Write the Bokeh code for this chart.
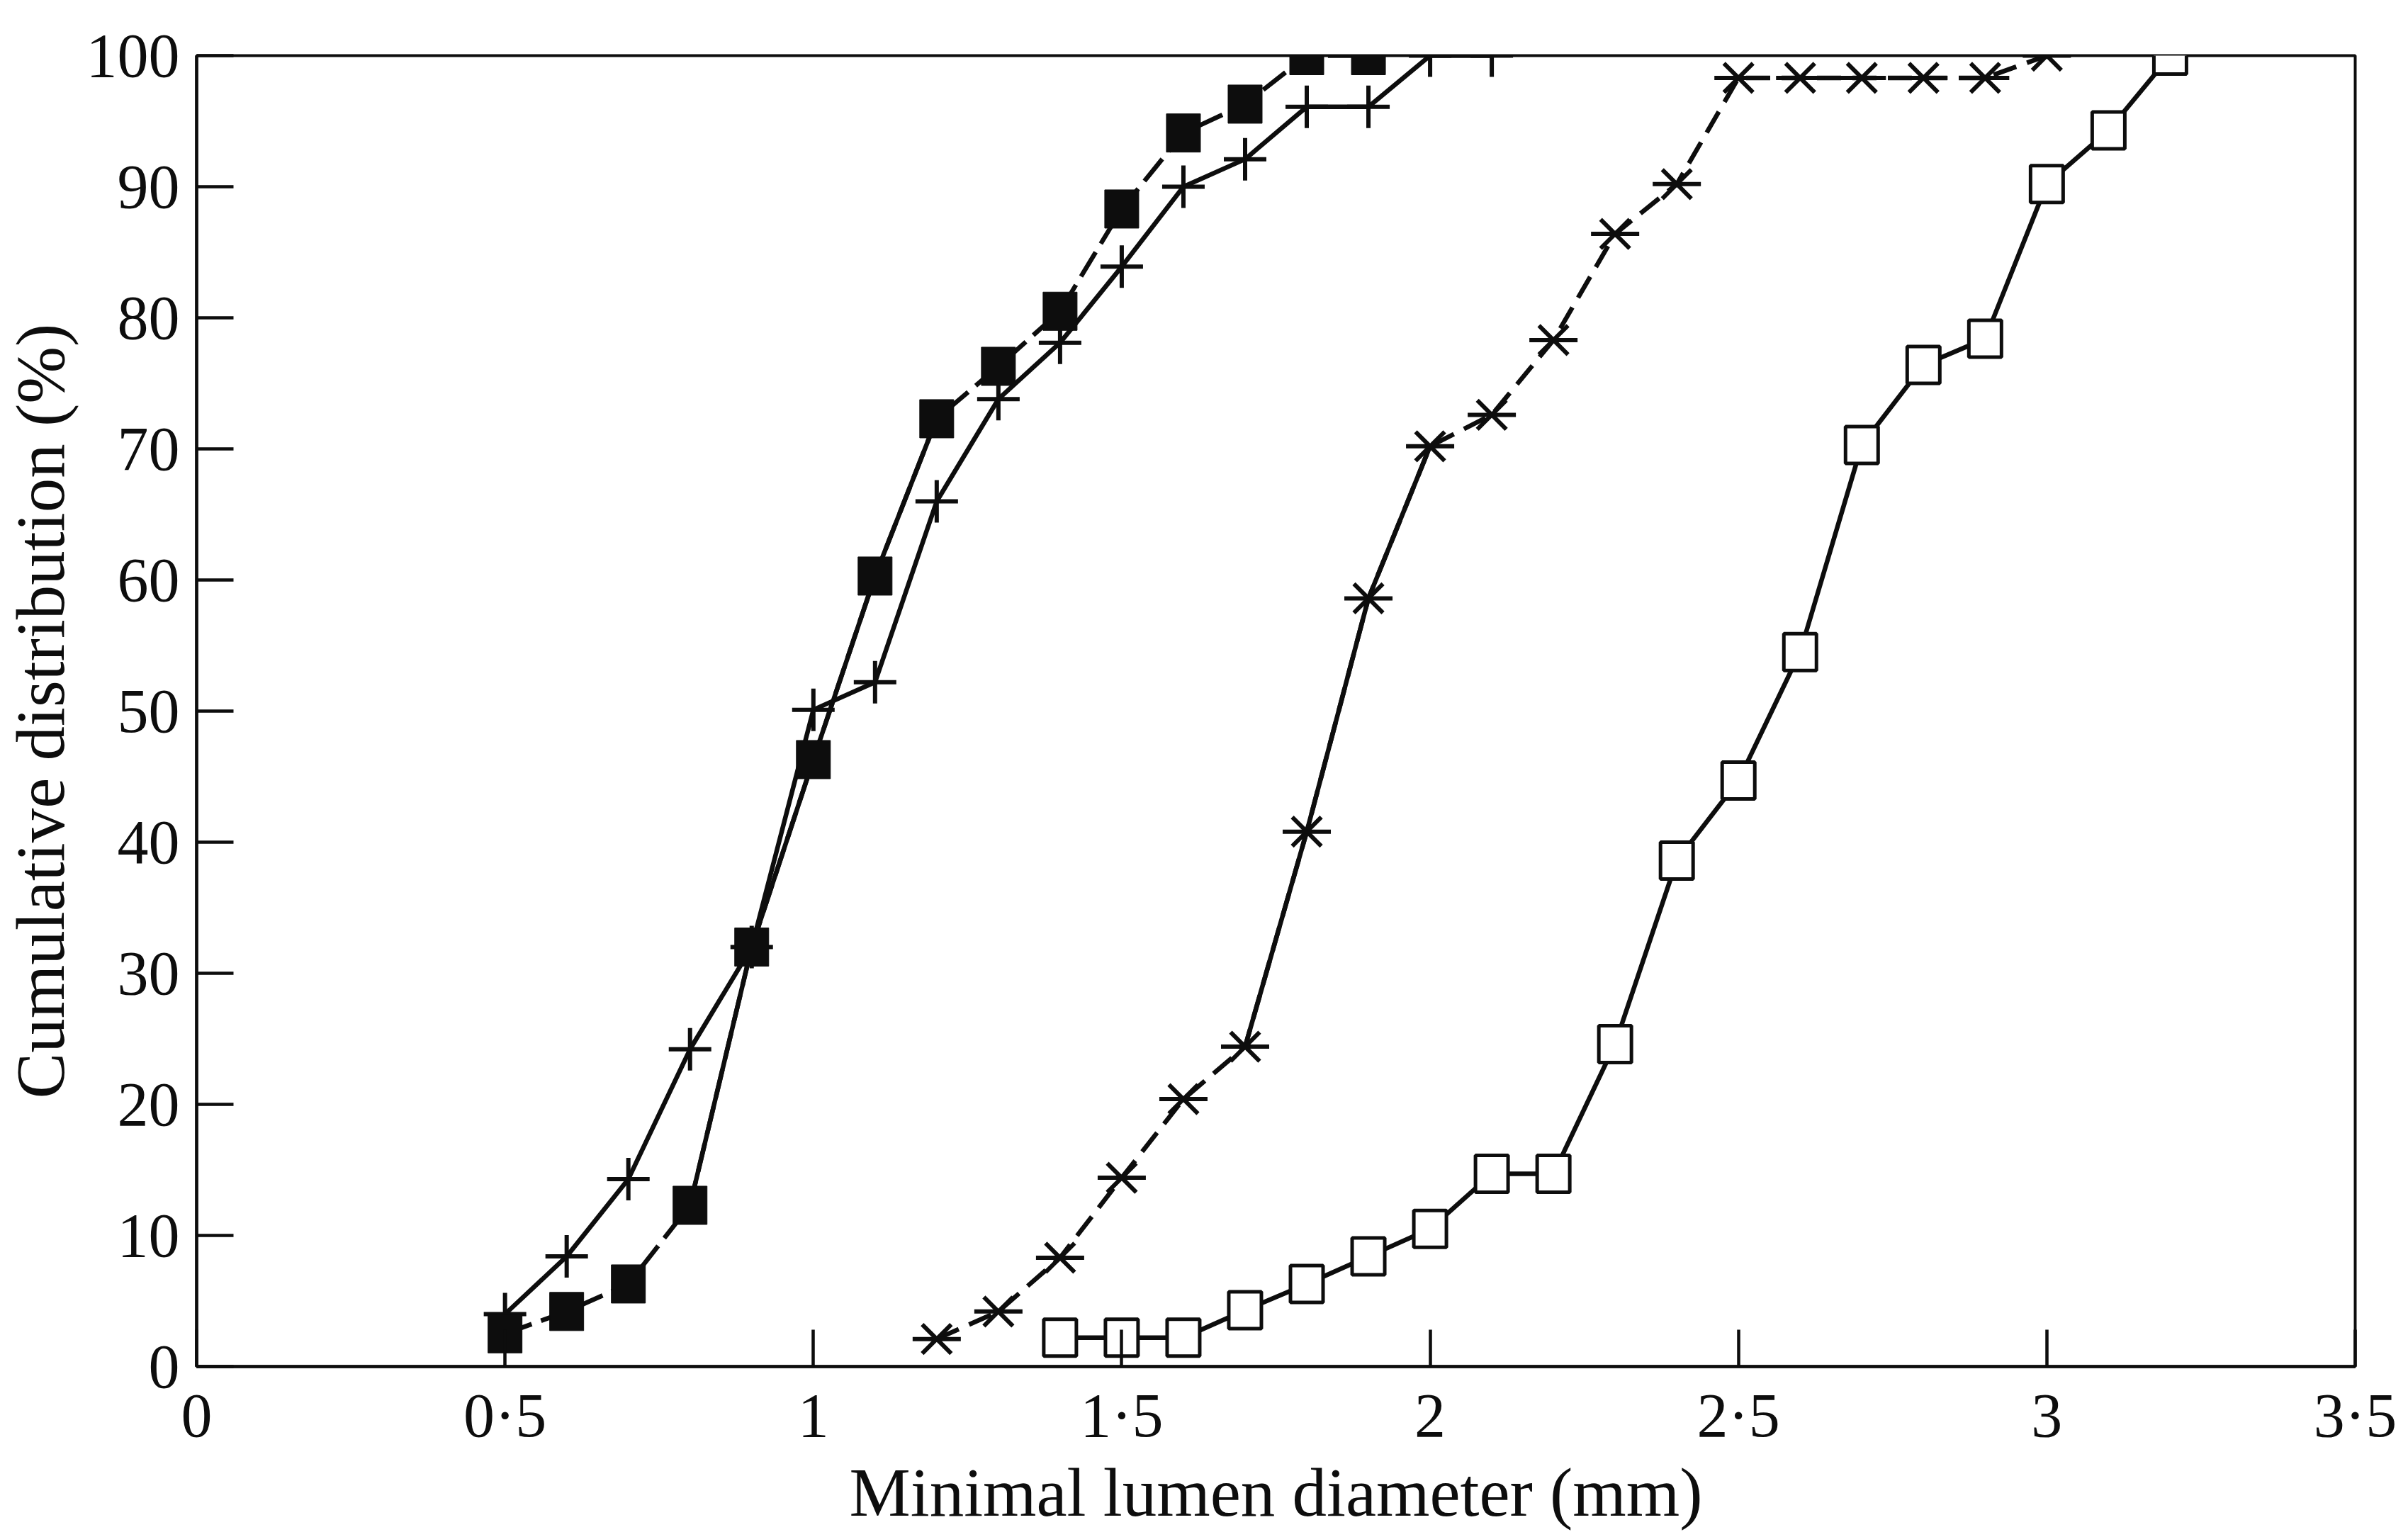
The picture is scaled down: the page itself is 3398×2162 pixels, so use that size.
from bokeh.plotting import figure
from bokeh.models import Range1d, FixedTicker, CustomJSTickFormatter
from bokeh.embed import file_html
from bokeh.resources import INLINE

# ---- data ----
filled_x = [0.5, 0.6, 0.7, 0.8, 0.9, 1.0, 1.1, 1.2, 1.3, 1.4, 1.5, 1.6, 1.7, 1.8, 1.9]
filled_y = [2.5, 4.2, 6.3, 12.3, 32.0, 46.3, 60.3, 72.3, 76.3, 80.5, 88.3, 94.1, 96.3, 100.0, 100.0]

plus_x = [0.5, 0.6, 0.7, 0.8, 0.9, 1.0, 1.1, 1.2, 1.3, 1.4, 1.5, 1.6, 1.7, 1.8, 1.9, 2.0, 2.1]
plus_y = [4.0, 8.4, 14.3, 24.2, 32.0, 50.1, 52.2, 66.0, 73.8, 78.1, 83.9, 90.0, 92.1, 96.1, 96.1, 100.0, 100.0]

star_x = [1.2, 1.3, 1.4, 1.5, 1.6, 1.7, 1.8, 1.9, 2.0, 2.1, 2.2, 2.3, 2.4, 2.5, 2.6, 2.7, 2.8, 2.9, 3.0]
star_y = [2.1, 4.2, 8.3, 14.4, 20.4, 24.4, 40.8, 58.6, 70.2, 72.6, 78.3, 86.4, 90.2, 98.3, 98.3, 98.3, 98.3, 98.3, 100.0]

open_x = [1.4, 1.5, 1.6, 1.7, 1.8, 1.9, 2.0, 2.1, 2.2, 2.3, 2.4, 2.5, 2.6, 2.7, 2.8, 2.9, 3.0, 3.1, 3.2]
open_y = [2.2, 2.2, 2.2, 4.3, 6.3, 8.4, 10.5, 14.7, 14.7, 24.6, 38.6, 44.7, 54.5, 70.3, 76.4, 78.4, 90.2, 94.3, 100.0]

x_ticks = [0, 0.5, 1, 1.5, 2, 2.5, 3, 3.5]
y_ticks = [0, 10, 20, 30, 40, 50, 60, 70, 80, 90, 100]

INK = "#0d0d0d"
FONT = "Liberation Serif"

p = figure(frame_width=3046, frame_height=1850,
           min_border_left=272, min_border_right=64, min_border_top=78, min_border_bottom=10,
           x_range=Range1d(0, 3.5), y_range=Range1d(0, 100),
           output_backend="svg", toolbar_location=None,
           background_fill_color="white", border_fill_color="white")

p.grid.visible = False
p.outline_line_color = INK
p.outline_line_width = 4

# axes
p.xaxis.ticker = FixedTicker(ticks=x_ticks)
p.yaxis.ticker = FixedTicker(ticks=y_ticks)
p.xaxis.formatter = CustomJSTickFormatter(code="return String(tick).replace('.', '\u00b7');")
for ax in (p.xaxis, p.yaxis):
    ax.axis_line_color = INK
    ax.axis_line_width = 4.5
    ax.major_tick_line_color = INK
    ax.major_tick_line_width = 4.5
    ax.major_tick_in = 52
    ax.major_tick_out = 0
    ax.minor_tick_line_color = None
    ax.major_label_text_font = FONT
    ax.major_label_text_font_size = "88px"
    ax.major_label_text_color = INK
    ax.axis_label_text_font = FONT
    ax.axis_label_text_font_size = "97px"
    ax.axis_label_text_font_style = "normal"
    ax.axis_label_text_color = INK
p.xaxis.major_label_standoff = 20
p.yaxis.major_label_standoff = 24
p.xaxis.axis_label_standoff = 4
p.yaxis.axis_label_standoff = 8
p.xaxis.axis_label = "Minimal lumen diameter (mm)"
p.yaxis.axis_label = "Cumulative distribution (%)"

LW = 6.5

# filled squares: dashed line, solid in the middle
p.line(filled_x, filled_y, line_color=INK, line_width=LW, line_dash="40 14")
p.line(filled_x[3:8], filled_y[3:8], line_color=INK, line_width=LW)

# plus: solid line
p.line(plus_x, plus_y, line_color=INK, line_width=LW)

# asterisks: dashed, solid between 1.7 and 2.0
p.line(star_x, star_y, line_color=INK, line_width=LW, line_dash="34 16")
p.line(star_x[5:9], star_y[5:9], line_color=INK, line_width=LW)

# open squares: solid
p.line(open_x, open_y, line_color=INK, line_width=LW)

# markers
p.rect(open_x, open_y, width=46, height=52, width_units="screen", height_units="screen",
       fill_color="white", line_color=INK, line_width=5)
p.scatter(star_x, star_y, marker="x", size=58, line_color=INK, line_width=6)
p.scatter(star_x, star_y, marker="dash", size=68, line_color=INK, line_width=6)
p.scatter(plus_x, plus_y, marker="cross", size=60, line_color=INK, line_width=6)
p.rect(filled_x, filled_y, width=48, height=54, width_units="screen", height_units="screen",
       fill_color=INK, line_color=INK, line_width=1)

open("out.html", "w").write(file_html(p, INLINE))
